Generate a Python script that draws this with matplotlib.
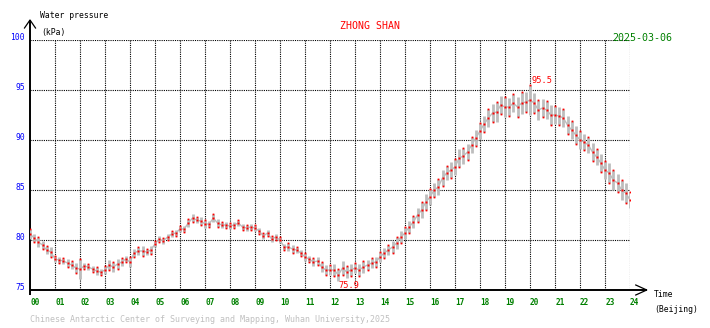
import matplotlib
matplotlib.use('Agg')
import matplotlib.pyplot as plt
import numpy as np

# ---- data (10-minute readings) ----
hours = np.arange(145) / 6.0
values = [
    80.6, 80.2, 79.8, 79.5, 79.0, 78.8,
    78.1, 78.0, 77.9, 77.7, 77.5, 77.2,
    77.1, 77.4, 77.3, 77.1, 76.9, 76.8,
    77.0, 77.5, 77.3, 77.6, 77.8, 78.1,
    77.8, 78.7, 78.9, 78.9, 78.8, 79.0,
    79.6, 80.1, 79.9, 80.3, 80.6, 80.7,
    81.1, 81.1, 81.7, 82.2, 82.0, 81.9,
    81.6, 81.6, 82.2, 81.7, 81.5, 81.5,
    81.4, 81.5, 81.7, 81.3, 81.2, 81.3,
    81.2, 80.9, 80.4, 80.7, 80.1, 80.3,
    80.0, 79.3, 79.3, 79.1, 79.0, 78.7,
    78.3, 78.1, 77.8, 77.9, 77.3, 77.0,
    77.0, 77.0, 76.5, 77.2, 76.8, 77.0,
    77.2, 77.0, 77.3, 77.5, 77.7, 77.8,
    78.3, 78.7, 79.0, 79.3, 79.7, 80.3,
    80.7, 81.3, 81.8, 82.5, 83.0, 83.8,
    84.3, 85.0, 85.3, 86.2, 86.7, 87.0,
    87.3, 88.2, 88.4, 88.8, 89.5, 90.2,
    90.9, 91.6, 92.2, 92.7, 92.8, 93.5,
    93.3, 93.3, 93.7, 93.3, 93.7, 93.8,
    94.0, 93.7, 93.0, 93.2, 93.0, 92.5,
    92.5, 92.4, 92.2, 91.5, 91.0, 90.5,
    90.0, 89.8, 89.5, 88.8, 88.3, 87.7,
    87.0, 86.7, 86.0, 85.7, 85.0, 84.7,
    84.0,
]
spread = [
    0.5, 0.4, 0.5, 0.4, 0.4, 0.5,
    0.3, 0.3, 0.3, 0.4, 0.4, 0.5,
    1.0, 0.3, 0.3, 0.3, 0.4, 0.3,
    0.4, 0.5, 0.5, 0.5, 0.4, 0.3,
    0.5, 0.4, 0.4, 0.5, 0.3, 0.4,
    0.3, 0.3, 0.3, 0.3, 0.3, 0.3,
    0.3, 0.3, 0.4, 0.4, 0.3, 0.4,
    0.4, 0.3, 0.4, 0.4, 0.3, 0.3,
    0.3, 0.3, 0.3, 0.3, 0.3, 0.3,
    0.3, 0.3, 0.3, 0.3, 0.3, 0.3,
    0.3, 0.3, 0.4, 0.4, 0.3, 0.3,
    0.4, 0.3, 0.4, 0.4, 0.5, 0.5,
    0.5, 0.6, 0.6, 0.7, 0.6, 0.6,
    0.5, 0.6, 0.6, 0.5, 0.5, 0.5,
    0.5, 0.5, 0.5, 0.6, 0.6, 0.6,
    0.6, 0.6, 0.6, 0.7, 0.8, 0.8,
    0.8, 0.7, 0.8, 0.8, 0.7, 0.8,
    0.8, 0.9, 0.8, 0.8, 0.8, 0.8,
    0.8, 0.8, 0.9, 0.9, 1.0, 0.9,
    1.0, 0.9, 0.9, 1.0, 1.1, 1.0,
    1.5, 1.0, 1.0, 0.9, 0.9, 1.0,
    0.9, 0.9, 0.9, 0.9, 0.9, 0.9,
    0.9, 0.8, 0.8, 0.9, 0.8, 0.9,
    0.9, 1.0, 1.0, 0.9, 1.0, 1.0,
    0.8,
]
y_ticks = [75, 80, 85, 90, 95, 100]
x_tick_labels = ["%02d" % h for h in range(25)]
station = "ZHONG SHAN"
date_text = "2025-03-06"
footer = "Chinese Antarctic Center of Surveying and Mapping, Wuhan University,2025"

W, H = 710, 328
FONT = "DejaVu Sans Mono"

values = np.array(values)
spread = np.array(spread)
lo = values - spread
hi = values + spread

fig = plt.figure(figsize=(W / 100, H / 100), dpi=100)
fig.patch.set_facecolor("white")
ax = fig.add_axes([30 / W, 38 / H, 600 / W, 250 / H])
ax.set_xlim(0, 24)
ax.set_ylim(75, 100)
ax.axis("off")

dot = (0, (1, 1))
# grid
ax.hlines([80, 85, 90, 95, 100], 0, 24, colors="black", lw=0.8, linestyles=[dot])
ax.vlines(np.arange(1, 25), 75, 100, colors="black", lw=0.8, linestyles=[dot])

# data: gray range bars, red sample dots
ax.vlines(hours, lo, hi, colors="#bdbdbd", lw=2.0, zorder=3)
ax.plot(hours, values, color="#bdbdbd", lw=1.0, zorder=3)
ax.plot(hours[::2], hi[::2], "s", ms=1.3, color="red", mec="none", zorder=4)
ax.plot(hours[1::2], lo[1::2], "s", ms=1.3, color="red", mec="none", zorder=4)
ax.plot(hours, values, "s", ms=1.7, color="red", mec="none", zorder=4)

# axes with arrows
kw = dict(color="black", lw=1.4, clip_on=False, solid_capstyle="butt")
ax.plot([0, 0], [74.5, 102.0], **kw)
ax.plot([0, 24.67], [75, 75], **kw)
ax.plot([-0.22, 0, 0.22], [101.2, 102.0, 101.2], color="black", lw=0.9, clip_on=False)
ax.plot([24.23, 24.67, 24.23], [75.5, 75, 74.5], color="black", lw=0.9, clip_on=False)

# tick labels
for v in y_ticks:
    ax.text(-0.2, v, str(v), ha="right", va="baseline", color="blue",
            fontsize=5.8, family=FONT, clip_on=False)
for i, lab in enumerate(x_tick_labels):
    ax.text(i + 0.19, 73.5, lab, ha="center", va="baseline", color="green",
            fontsize=5.6, family=FONT, fontweight="bold", clip_on=False)

# extreme labels
imax = int(np.argmax(hi))
imin = int(np.argmin(lo))
ax.text(hours[imax] + 0.08, hi[imax] + 0.2, "%.1f" % hi[imax], ha="left", va="baseline",
        color="red", fontsize=6.2, family=FONT, clip_on=False, zorder=6)
ax.text(hours[imin], lo[imin] - 0.05, "%.1f" % lo[imin], ha="left", va="top",
        color="red", fontsize=6.2, family=FONT, clip_on=False, zorder=6)

def ftext(px, py, s, **k):
    fig.text(px / W, 1 - py / H, s, family=FONT, **k)

ftext(40, 18, "Water pressure", fontsize=5.9, color="black", va="baseline")
ftext(41, 35, "(kPa)", fontsize=5.9, color="black", va="baseline")
ftext(369.5, 29, station, fontsize=7.1, color="red", ha="center", va="baseline")
ftext(612, 41, date_text, fontsize=7.2, color="green", ha="left", va="baseline")
ftext(654, 297, "Time", fontsize=5.9, color="black", va="baseline")
ftext(654, 312, "(Beijing)", fontsize=5.9, color="black", va="baseline")
ftext(30, 322, footer, fontsize=6.0, color="#c0c0c0", va="baseline")

fig.savefig("out.png", dpi=100, facecolor="white")
